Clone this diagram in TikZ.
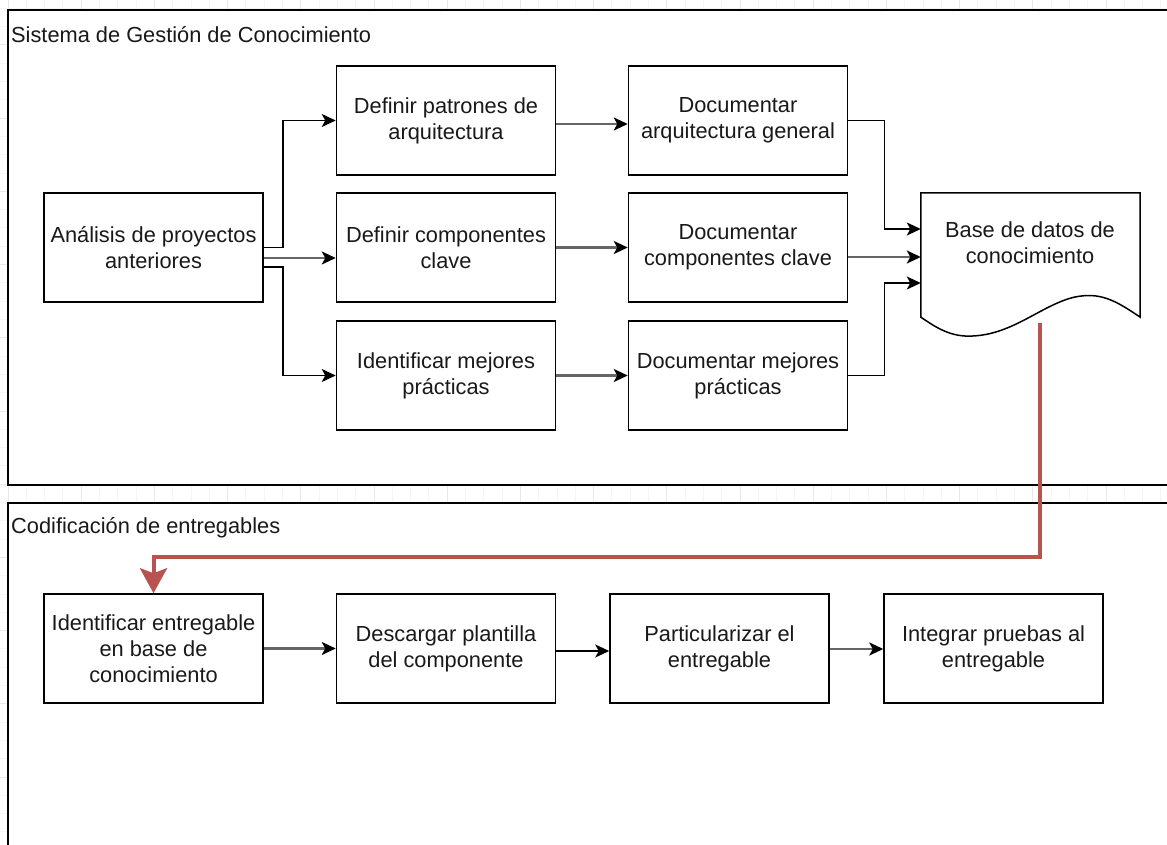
\documentclass[tikz,border=0pt]{standalone}
\usepackage{fontspec}
\setmainfont{Liberation Sans}
\usetikzlibrary{arrows.meta,calc}
\definecolor{drred}{HTML}{B85450}
\tikzset{
  box/.style={draw, line width=1.5pt, minimum width=219pt, minimum height=109pt, align=center, inner sep=0pt, font=\fontsize{21.8pt}{26pt}\selectfont, text=black!90},
  arr/.style={line width=1.5pt, -{Stealth[length=14pt,width=13pt,inset=3.5pt,color=black]}},
  garr/.style={arr, draw=black!60, line width=2.2pt},
  redarr/.style={draw=drred, line width=4pt, -{Stealth[length=25pt,width=27pt,inset=5pt]}},
  frame/.style={draw, line width=1.5pt, fill=white},
  ttl/.style={anchor=west, inner sep=0pt, font=\fontsize{21.8pt}{26pt}\selectfont, text=black!90},
  gmin/.style={draw=black!4, line width=1pt},
  gmaj/.style={draw=black!9, line width=1pt}
}
\begin{document}
\begin{tikzpicture}[x=1pt,y=-1pt]
\useasboundingbox (0,0) rectangle (1167,845);
\clip (0,0) rectangle (1167,845);
\fill[white] (0,0) rectangle (1167,845);
% grid
\foreach \k in {0,...,64} \draw[gmin] ({8+18.3*\k},0) -- ++(0,845);
\foreach \k in {0,...,46} \draw[gmin] (0,{8.4+18.3*\k}) -- ++(1167,0);
\foreach \k in {0,...,16} \draw[gmaj] ({8+73.2*\k},0) -- ++(0,845);
\foreach \k in {-1,...,11} \draw[gmaj] (0,{45+73.2*\k}) -- ++(1167,0);
% frames
\draw[frame] (8,10) rectangle (1180,485);
\draw[frame] (8,503) rectangle (1180,860);
\node[ttl] (t1) at (11,35) {Sistema de Gestión de Conocimiento};
\node[ttl] (t2) at (11,528) {Codificación de entregables};
% top boxes
\node[box] (ana) at (153.5,247.5) {Análisis de proyectos\\anteriores};
\node[box] (dpat) at (446,120.5) {Definir patrones de\\arquitectura};
\node[box] (dcomp) at (446,247.5) {Definir componentes\\clave};
\node[box] (imej) at (446,375.5) {Identificar mejores\\prácticas};
\node[box] (darq) at (738,120.5) {Documentar\\arquitectura general};
\node[box] (dcc) at (738,247.5) {Documentar\\componentes clave};
\node[box] (dmej) at (738,375.5) {Documentar mejores\\prácticas};
% document shape
\node[minimum width=219pt, minimum height=124pt, inner sep=0pt] (base) at (1030.5,255) {};
\draw[line width=1.5pt, fill=white] (base.south west) -- (base.north west) -- (base.north east) -- (base.south east)
  .. controls (1115,300) and (1100,292) .. (1075,297)
  .. controls (1040,305) and (1010,338) .. (965,336)
  .. controls (945,335) and (930,323) .. (base.south west) -- cycle;
\node[align=center, font=\fontsize{21.8pt}{26pt}\selectfont, text=black!90] (bt) at (1030,243) {Base de datos de\\conocimiento};
% bottom boxes
\node[box] (ie) at (153.5,648.5) {Identificar entregable\\en base de\\conocimiento};
\node[box] (dp) at (446,648.5) {Descargar plantilla\\del componente};
\node[box] (pe) at (719.5,648.5) {Particularizar el\\entregable};
\node[box] (ip) at (993.5,648.5) {Integrar pruebas al\\entregable};
% connectors top
\draw[arr] (ana.east) -- ++(19,0) |- (dpat.west);
\draw[garr] ([yshift=-10.5pt]ana.east) -- ([yshift=-10.5pt]dcomp.west);
\draw[arr] ([yshift=-19.5pt]ana.east) -- ++(19,0) |- (imej.west);
\draw[garr] ([yshift=-3.5pt]dpat.east) -- ([yshift=-3.5pt]darq.west);
\draw[garr] (dcomp.east) -- (dcc.west);
\draw[garr] (imej.east) -- (dmej.west);
\draw[arr] (darq.east) -- ++(36,0) |- ([yshift=26pt]base.west);
\draw[garr] ([yshift=-9.5pt]dcc.east) -- ([yshift=-2pt]base.west);
\draw[arr] (dmej.east) -- ++(36,0) |- ([yshift=-28pt]base.west);
% red connector
\coordinate (rs) at (1040,323);
\draw[redarr] (rs) -- ++(0,234) -| (ie.north);
% connectors bottom
\draw[garr] (ie.east) -- (dp.west);
\draw[arr] ([yshift=-2.5pt]dp.east) -- ([yshift=-2.5pt]pe.west);
\draw[garr] ([yshift=-0.5pt]pe.east) -- ([yshift=-0.5pt]ip.west);
\end{tikzpicture}
\end{document}
